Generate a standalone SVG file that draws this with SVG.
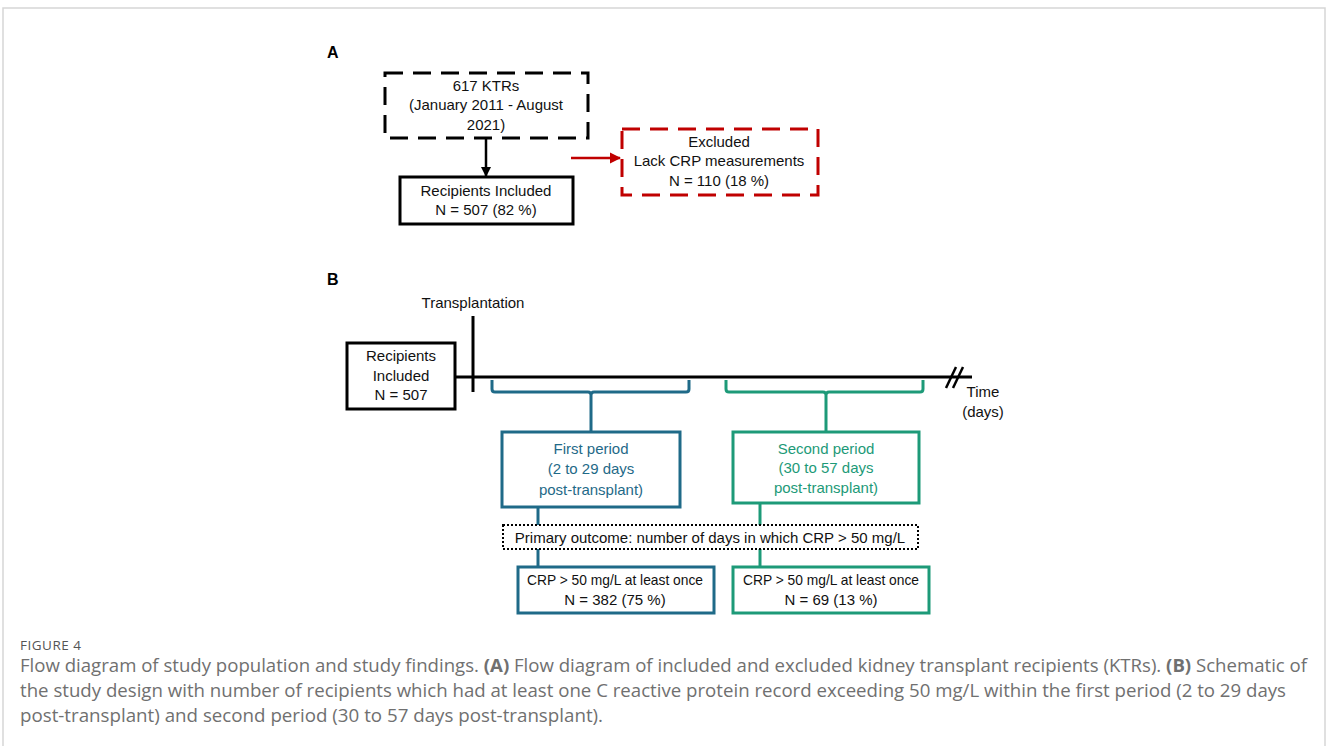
<svg xmlns="http://www.w3.org/2000/svg" width="1328" height="746" viewBox="0 0 1328 746">
<style>
.t{font-family:"Liberation Sans",Arial,sans-serif;font-size:15px;fill:#111;text-anchor:middle}
.teal{fill:#1f6a88}
.grn{fill:#1d9a78}
.lbl{font-family:"Liberation Sans",Arial,sans-serif;font-size:16px;font-weight:bold;fill:#000}
.box{fill:#fff;stroke:#000;stroke-width:3}
.cap{font-family:"Open Sans","Noto Sans",sans-serif;font-size:17.5px;fill:#707070}
</style>
<defs>
<marker id="ah" viewBox="0 0 10 10" refX="9" refY="5" markerWidth="4" markerHeight="4" orient="auto"><path d="M0,0 L10,5 L0,10 z" fill="#000"/></marker>
<marker id="ahr" viewBox="0 0 10 10" refX="9" refY="5" markerWidth="4.5" markerHeight="4.5" orient="auto"><path d="M0,0 L10,5 L0,10 z" fill="#c00000"/></marker>
</defs>
<rect x="0" y="0" width="1328" height="746" fill="#fff"/>
<rect x="3" y="8" width="1322" height="760" fill="none" stroke="#d6d6d6" stroke-width="1.5"/>

<text class="lbl" x="327" y="58">A</text>
<text class="lbl" x="327" y="285">B</text>

<g id="connectors">
<line x1="486" y1="139" x2="486" y2="176" stroke="#000" stroke-width="2.5" marker-end="url(#ah)"/>
<line x1="571" y1="158" x2="620" y2="158" stroke="#c00000" stroke-width="2.5" marker-end="url(#ahr)"/>
<line x1="455" y1="377" x2="972" y2="377" stroke="#000" stroke-width="3"/>
<line x1="473" y1="316" x2="473" y2="392" stroke="#000" stroke-width="3"/>
<line x1="946" y1="388" x2="956" y2="367" stroke="#000" stroke-width="2.5"/>
<line x1="953" y1="388" x2="963" y2="367" stroke="#000" stroke-width="2.5"/>
<path d="M492,380 V389 Q492,392 495,392 H588 Q591,392 591,395 V432 M591,395 Q591,392 594,392 H686 Q689,392 689,389 V380" fill="none" stroke="#1f6a88" stroke-width="3"/>
<path d="M726,380 V389 Q726,392 729,392 H823 Q826,392 826,395 V432 M826,395 Q826,392 829,392 H920 Q923,392 923,389 V380" fill="none" stroke="#1d9a78" stroke-width="3"/>
<line x1="538" y1="507" x2="538" y2="525" stroke="#1f6a88" stroke-width="3"/>
<line x1="538" y1="549" x2="538" y2="567" stroke="#1f6a88" stroke-width="3"/>
<line x1="760" y1="503" x2="760" y2="525" stroke="#1d9a78" stroke-width="3"/>
<line x1="760" y1="549" x2="760" y2="567" stroke="#1d9a78" stroke-width="3"/>
</g>

<g id="ktrs">
<rect x="385" y="73" width="203" height="65" fill="none" stroke="#000" stroke-width="3" stroke-dasharray="18,10"/>
<text class="t" x="486" y="91">617 KTRs</text>
<text class="t" x="486" y="110">(January 2011 - August</text>
<text class="t" x="486" y="130">2021)</text>
</g>

<g id="included">
<rect class="box" x="400" y="177" width="173" height="47"/>
<text class="t" x="486" y="196">Recipients Included</text>
<text class="t" x="486" y="215">N = 507 (82 %)</text>
</g>

<g id="excluded">
<rect x="622" y="129" width="196" height="66" fill="none" stroke="#c00000" stroke-width="3" stroke-dasharray="18,10"/>
<text class="t" x="719" y="147">Excluded</text>
<text class="t" x="719" y="166">Lack CRP measurements</text>
<text class="t" x="719" y="186">N = 110 (18 %)</text>
</g>

<g id="transplantation">
<text class="t" x="473" y="308">Transplantation</text>
</g>

<g id="recipients-b">
<rect class="box" x="347" y="343" width="108" height="66"/>
<text class="t" x="401" y="361">Recipients</text>
<text class="t" x="401" y="381">Included</text>
<text class="t" x="401" y="400">N = 507</text>
</g>

<g id="time">
<text class="t" x="983" y="397">Time</text>
<text class="t" x="983" y="417">(days)</text>
</g>

<g id="first-period">
<rect x="502" y="432" width="178" height="75" fill="#fff" stroke="#1f6a88" stroke-width="3"/>
<text class="t teal" x="591" y="454">First period</text>
<text class="t teal" x="591" y="474">(2 to 29 days</text>
<text class="t teal" x="591" y="495">post-transplant)</text>
</g>

<g id="second-period">
<rect x="733" y="432" width="186" height="71" fill="#fff" stroke="#1d9a78" stroke-width="3"/>
<text class="t grn" x="826" y="454">Second period</text>
<text class="t grn" x="826" y="473">(30 to 57 days</text>
<text class="t grn" x="826" y="493">post-transplant)</text>
</g>

<g id="primary-outcome">
<rect x="503" y="525" width="415" height="24" fill="#fff" stroke="#000" stroke-width="2" stroke-dasharray="2,2"/>
<text class="t" x="710" y="543">Primary outcome: number of days in which CRP &gt; 50 mg/L</text>
</g>

<g id="result-1">
<rect x="518" y="567" width="196" height="46" fill="#fff" stroke="#1f6a88" stroke-width="3"/>
<text class="t" x="615" y="585" textLength="176" lengthAdjust="spacingAndGlyphs">CRP &gt; 50 mg/L at least once</text>
<text class="t" x="615" y="605">N = 382 (75 %)</text>
</g>

<g id="result-2">
<rect x="733" y="567" width="196" height="46" fill="#fff" stroke="#1d9a78" stroke-width="3"/>
<text class="t" x="831" y="585" textLength="176" lengthAdjust="spacingAndGlyphs">CRP &gt; 50 mg/L at least once</text>
<text class="t" x="831" y="605">N = 69 (13 %)</text>
</g>

<g id="caption">
<text class="cap" x="20" y="650" style="font-size:13.5px;fill:#555;letter-spacing:0.5px">FIGURE 4</text>
<text class="cap" x="20" y="672" textLength="1287" lengthAdjust="spacingAndGlyphs">Flow diagram of study population and study findings. <tspan font-weight="bold">(A)</tspan> Flow diagram of included and excluded kidney transplant recipients (KTRs). <tspan font-weight="bold">(B)</tspan> Schematic of</text>
<text class="cap" x="20" y="697" textLength="1266" lengthAdjust="spacingAndGlyphs">the study design with number of recipients which had at least one C reactive protein record exceeding 50 mg/L within the first period (2 to 29 days</text>
<text class="cap" x="20" y="722" textLength="583" lengthAdjust="spacingAndGlyphs">post-transplant) and second period (30 to 57 days post-transplant).</text>
</g>
</svg>
